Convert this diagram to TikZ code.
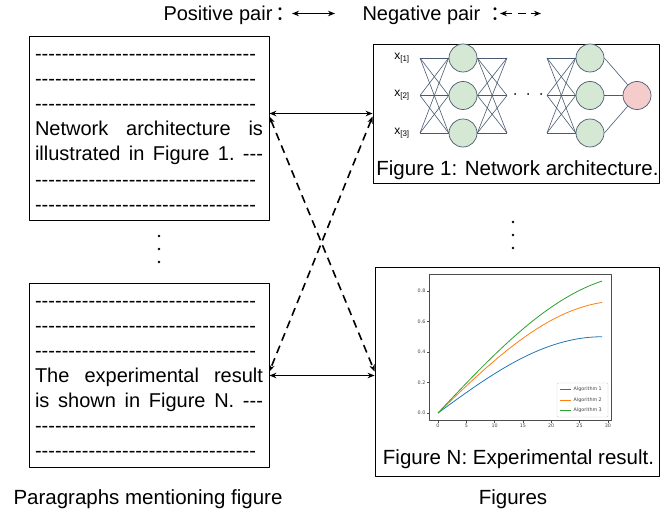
\documentclass[tikz,border=0pt]{standalone}
\usepackage{fontspec}
\setmainfont{Liberation Sans}
\newfontfamily\cjk{Noto Sans CJK SC}
\newfontfamily\mplfont{DejaVu Sans}
\usetikzlibrary{arrows.meta}

\definecolor{nnline}{HTML}{4A5A70}
\definecolor{nnfill}{HTML}{D5E8D4}
\definecolor{outfill}{HTML}{F4CCCC}
\definecolor{mplblue}{HTML}{1F77B4}
\definecolor{mplorange}{HTML}{FF7F0E}
\definecolor{mplgreen}{HTML}{2CA02C}

% one hyphen, a row of hyphens, a stretched line
\newcommand\hy{\hbox{-}}
\newcommand\dashline{\strut\hbox to 221pt{\xleaders\hbox{-}\hfill}}
\newcommand\jline[1]{\strut\hbox to 228pt{#1}}

\begin{document}
\begin{tikzpicture}[x=1pt, y=-1pt, line join=round, >={Stealth[length=7pt,width=5.5pt]},
  parbox/.style={draw, line width=0.8pt, minimum width=240pt, minimum height=184pt, inner sep=0pt},
  partext/.style={text width=228pt, inner sep=0pt, align=left, font=\fontsize{20}{25}\selectfont},
  figbox/.style={draw, line width=0.8pt, inner sep=0pt},
  capfont/.style={font=\fontsize{20.5}{24}\selectfont},
  posarrow/.style={<->, line width=1.6pt},
  negarrow/.style={<->, line width=1.6pt, dash pattern=on 8pt off 5.5pt},
  neuron/.style={circle, draw=nnline, fill=nnfill, line width=0.7pt, minimum size=28pt, inner sep=0pt},
  nnedge/.style={nnline, line width=0.6pt},
  ticklbl/.style={font=\mplfont\fontsize{4.8}{6}\selectfont, text=black!75, inner sep=0.5pt}]
  \useasboundingbox (0,0) rectangle (660,516);

  % legend on top
  \node[anchor=base west, font=\fontsize{20}{24}\selectfont] (postxt) at (160,20.5) {Positive pair};
  \node[font=\fontsize{20}{24}\selectfont] (poscol) at (285,14) {\cjk ：};
  \coordinate (pa) at (292,13.5); \coordinate (pb) at (335,13.5);
  \draw[posarrow] (pa) -- (pb);
  \node[anchor=base west, font=\fontsize{20}{24}\selectfont] (negtxt) at (359,20.5) {Negative pair};
  \node[font=\fontsize{20}{24}\selectfont] (negcol) at (500,14) {\cjk ：};
  \coordinate (na) at (500,13.5); \coordinate (nb) at (541,13.5);
  \draw[negarrow] (na) -- (nb);

  % paragraphs
  \node[parbox] (par1) at (149,128) {};
  \node[partext] (par1txt) at (149,131) {\dashline\\ \dashline\\ \dashline\\
    \jline{Network\hfill architecture\hfill is}\\ \jline{illustrated\hfill in\hfill Figure\hfill 1.\hfill\hy\hy\hy}\\ \dashline\\ \dashline};
  \node[parbox] (par2) at (149,375.5) {};
  \node[partext] (par2txt) at (149,377.5) {\dashline\\ \dashline\\ \dashline\\
    \jline{The\hfill experimental\hfill result}\\ \jline{is\hfill shown\hfill in\hfill Figure\hfill N.\hfill\hy\hy\hy}\\ \dashline\\ \dashline};
  \foreach \yy in {236,249,262} \fill (159,\yy) circle (1.3);

  % figures
  \node[figbox, minimum width=286pt, minimum height=139pt] (fig1) at (516,113.5) {};
  \node[figbox, minimum width=284pt, minimum height=209pt] (figN) at (517,371.5) {};
  \foreach \yy in {222,235,248} \fill (513,\yy) circle (1.3);

  % network
  \foreach \i/\yy in {1/58,2/95.5,3/133} {
    \node[font=\fontsize{12}{14}\selectfont, inner sep=0pt] (x\i) at (402,\yy) {x\textsubscript{[\i]}};
    \coordinate (in\i) at (420,\yy);
    \node[neuron] (h\i) at (463,\yy) {};
    \coordinate (m\i) at (507,\yy);
    \coordinate (k\i) at (547,\yy);
    \node[neuron] (g\i) at (590,\yy) {};
  }
  \node[neuron, fill=outfill] (out) at (637,95.5) {};
  \foreach \i in {1,2,3} \foreach \j in {1,2,3} {
    \draw[nnedge] (in\i) -- (h\j.west);
    \draw[nnedge] (h\i.east) -- (m\j);
    \draw[nnedge] (k\i) -- (g\j.west);
  }
  \foreach \i in {1,2,3} \draw[nnedge] (g\i.east) -- (out);
  \foreach \xx in {515,528,541} \fill (\xx,94) circle (1);
  \node[capfont, anchor=base] (cap1) at (517.5,175) {Figure 1: Network architecture.};

  % plot
  \draw[black!70, line width=0.5pt] (429,274) rectangle (611,420);
  \foreach \v in {0,5,...,30} {
    \draw[black!70, line width=0.4pt] ({438+5.66*\v},420) -- +(0,2.5);
    \node[ticklbl, anchor=north] (xt\v) at ({438+5.66*\v},423) {\v};
  }
  \foreach \v/\lab in {0/0.0,0.2/0.2,0.4/0.4,0.6/0.6,0.8/0.8} {
    \draw[black!70, line width=0.4pt] (429,{413-152.5*\v}) -- +(-2.5,0);
    \node[ticklbl, anchor=east] (yt\lab) at (426,{413-152.5*\v}) {\lab};
  }
  \draw[mplblue, line width=0.8pt] plot[domain=0:29, samples=60, smooth] ({438+5.66*\x},{413-152.5*0.5*sin(90*\x/29)});
  \draw[mplorange, line width=0.8pt] plot[domain=0:29, samples=60, smooth] ({438+5.66*\x},{413-152.5*0.734*sin(81*\x/29)});
  \draw[mplgreen, line width=0.8pt] plot[domain=0:29, samples=60, smooth] ({438+5.66*\x},{413-152.5*0.91*sin(72*\x/29)});
  \draw[black!20, fill=white, rounded corners=1pt] (557,383) rectangle (608,417);
  \foreach \c/\n/\yy in {mplblue/1/389,mplorange/2/400,mplgreen/3/410} {
    \draw[\c, line width=0.8pt] (560,\yy) -- (571,\yy);
    \node[ticklbl, anchor=west] (lg\n) at (573,\yy) {Algorithm \n};
  }
  \node[capfont, anchor=base] (capN) at (518.5,464) {Figure N: Experimental result.};

  % pairs
  \coordinate (p1) at (par1.east |- fig1.west);
  \draw[posarrow] (p1) -- (fig1.west);
  \draw[posarrow] (par2.east) -- (par2.east -| figN.west);
  \draw[negarrow] ([yshift=-3pt]p1) -- (figN.west);
  \draw[negarrow] ([yshift=-3pt]fig1.west) -- (par2.east |- figN.west);

  % labels below
  \node[capfont, anchor=base] (lblpar) at (148,504) {Paragraphs mentioning figure};
  \node[capfont, anchor=base] (lblfig) at (513,504) {Figures};
\end{tikzpicture}
\end{document}
